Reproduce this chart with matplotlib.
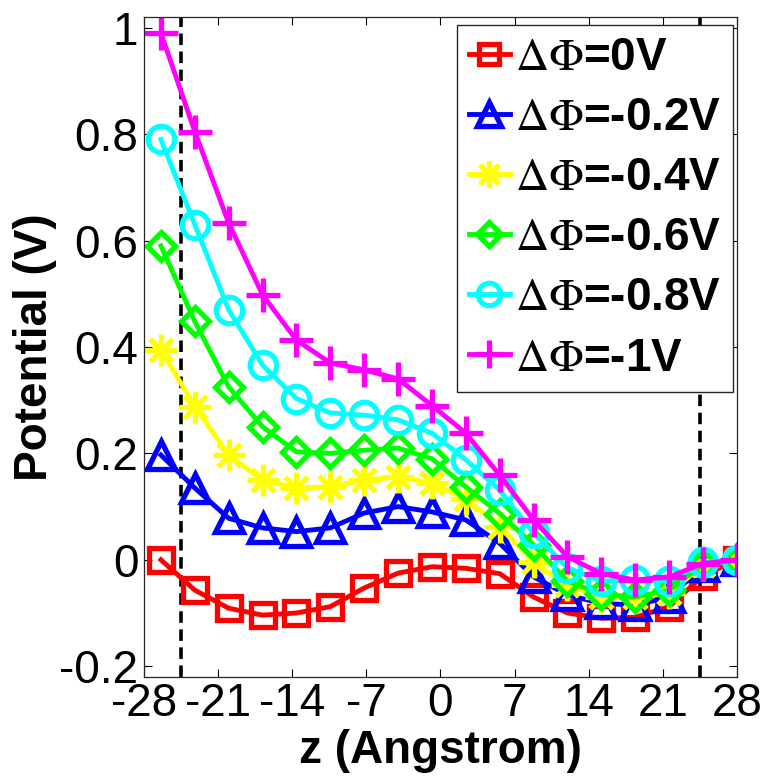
import numpy as np
import matplotlib
matplotlib.use("Agg")
import matplotlib.pyplot as plt
from matplotlib.path import Path

plt.rcParams['font.family'] = ['Liberation Sans', 'DejaVu Sans']
plt.rcParams['mathtext.fontset'] = 'stix'

z = [-26.4, -23.2, -20.0, -16.8, -13.6, -10.4, -7.2, -4.0, -0.8, 2.4,
     5.6, 8.8, 12.0, 15.2, 18.4, 21.6, 24.8, 28.0]

v_0 = [0.000, -0.057, -0.091, -0.104, -0.100, -0.088, -0.053, -0.025, -0.013, -0.016,
       -0.026, -0.070, -0.100, -0.110, -0.108, -0.088, -0.030, 0.000]
v_02 = [0.197, 0.135, 0.078, 0.060, 0.053, 0.060, 0.088, 0.100, 0.090, 0.075,
        0.031, -0.032, -0.066, -0.082, -0.085, -0.070, -0.012, 0.000]
v_04 = [0.395, 0.288, 0.197, 0.150, 0.135, 0.137, 0.150, 0.156, 0.144, 0.115,
        0.062, -0.004, -0.048, -0.070, -0.070, -0.063, -0.010, 0.000]
v_06 = [0.590, 0.448, 0.325, 0.250, 0.203, 0.200, 0.206, 0.210, 0.190, 0.137,
        0.087, 0.028, -0.040, -0.065, -0.070, -0.057, -0.008, 0.000]
v_08 = [0.790, 0.630, 0.470, 0.366, 0.303, 0.276, 0.272, 0.263, 0.238, 0.188,
        0.131, 0.050, -0.015, -0.040, -0.038, -0.040, -0.005, 0.000]
v_10 = [0.990, 0.805, 0.633, 0.498, 0.413, 0.370, 0.357, 0.340, 0.290, 0.238,
        0.159, 0.075, 0.006, -0.026, -0.038, -0.032, -0.007, 0.000]

labels = ['=0V', '=-0.2V', '=-0.4V', '=-0.6V', '=-0.8V', '=-1V']
series = [v_0, v_02, v_04, v_06, v_08, v_10]
colors = ['#ff0000', '#0000ff', '#ffff00', '#00ff00', '#00ffff', '#ff00ff']

xticks = [-28, -21, -14, -7, 0, 7, 14, 21, 28]
yticks = [-0.2, 0, 0.2, 0.4, 0.6, 0.8, 1.0]
ytick_labels = ['-0.2', '0', '0.2', '0.4', '0.6', '0.8', '1']
boundaries = [-24.5, 24.5]

# MATLAB-style asterisk: plus + cross
d = 0.7071
ast = Path([(0, -1), (0, 1), (-1, 0), (1, 0), (-d, -d), (d, d), (-d, d), (d, -d)],
           [Path.MOVETO, Path.LINETO] * 4)

markers = ['s', '^', ast, 'D', 'o', '+']
msizes = [17, 20, 23, 14, 19, 24]

fig = plt.figure(figsize=(7.70, 7.78), dpi=100)
ax = fig.add_axes([0.187, 0.130, 0.770, 0.848])

for xb in boundaries:
    ax.axvline(xb, color='black', lw=2.6, linestyle=(0, (3.2, 1.8)), zorder=1)

for vals, lab, c, m, ms in zip(series, labels, colors, markers, msizes):
    ax.plot(z, vals, color=c, lw=3.5, marker=m, markersize=ms,
            markerfacecolor='none', markeredgecolor=c, markeredgewidth=3.8,
            label=r'$\Delta\Phi$' + lab, zorder=2)

ax.set_xlim(-28, 28)
ax.set_ylim(-0.22, 1.02)
ax.set_xticks(xticks)
ax.set_xticklabels([str(t) for t in xticks])
ax.set_yticks(yticks)
ax.set_yticklabels(ytick_labels)
ax.tick_params(direction='in', length=6, width=0.8, top=True, right=True,
               labelsize=33, pad=4)
for s in ax.spines.values():
    s.set_linewidth(0.9)
    s.set_color('#262626')

ax.set_xlabel('z (Angstrom)', fontsize=33, fontweight='bold', labelpad=2)
ax.set_ylabel('Potential (V)', fontsize=33, fontweight='bold', labelpad=2)

leg = ax.legend(loc='upper right', bbox_to_anchor=(0.9937, 0.9883),
                borderaxespad=0, fancybox=False, framealpha=1,
                edgecolor='#262626', handlelength=0.9, handletextpad=0.12,
                labelspacing=0.35, borderpad=0.25,
                prop={'size': 33, 'weight': 'bold'})
leg.get_frame().set_linewidth(1.0)
leg.set_zorder(5)
for h in leg.legend_handles:
    h.set_markersize(h.get_markersize() * 0.85)

fig.savefig('out.png', dpi=100)
